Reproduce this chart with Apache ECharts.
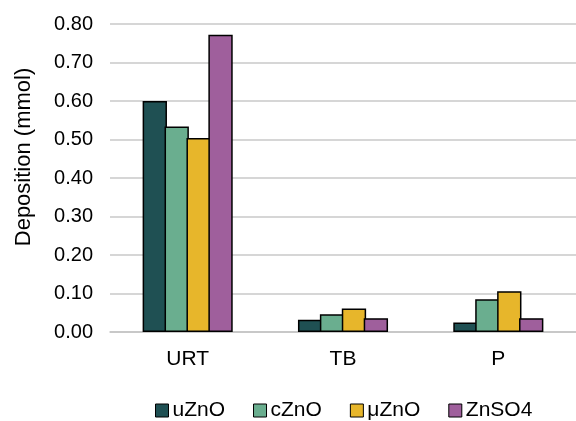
<!DOCTYPE html>
<html><head><meta charset="utf-8">
<script src="https://cdn.jsdelivr.net/npm/echarts@6/dist/echarts.min.js"></script>
<style>html,body{margin:0;padding:0;background:#fff}#c{width:576px;height:421px}</style>
</head><body><div id="c"></div>
<script>
const categories = ['URT', 'TB', 'P'];
const seriesNames = ['uZnO', 'cZnO', 'μZnO', 'ZnSO4'];
const uZnO = [0.600, 0.032, 0.025];
const cZnO = [0.534, 0.046, 0.085];
const muZnO = [0.504, 0.061, 0.106];
const ZnSO4 = [0.772, 0.036, 0.036];
const yTicks = ['0.00', '0.10', '0.20', '0.30', '0.40', '0.50', '0.60', '0.70', '0.80'];
const yTitle = 'Deposition (mmol)';
const colors = ['#1f5053', '#6aae8f', '#e7b62b', '#9f5f9c'];
const values = [uZnO, cZnO, muZnO, ZnSO4];

const FONT = 'Liberation Sans, Arial, sans-serif';
const chart = echarts.init(document.getElementById('c'), null, {renderer: 'canvas'});
chart.setOption({
  animation: false,
  textStyle: {fontFamily: FONT},
  grid: {left: 110, right: -12, top: 24, bottom: 89},
  legend: {
    bottom: 0, left: 155, padding: 0,
    itemWidth: 13, itemHeight: 13, itemGap: 28,
    icon: 'rect',
    itemStyle: {borderColor: '#000', borderWidth: 1},
    textStyle: {fontSize: 21, color: '#000', fontFamily: FONT, padding: [0, 0, 0, -1]},
    data: seriesNames
  },
  graphic: [{
    type: 'text', x: 24, y: 157, rotation: Math.PI / 2,
    style: {text: yTitle, fontSize: 22, fontFamily: FONT, fill: '#000', align: 'center', verticalAlign: 'middle'}
  }],
  xAxis: {
    type: 'category', data: categories,
    axisLine: {lineStyle: {color: '#c4c4c4', width: 1.5}},
    axisTick: {show: false},
    axisLabel: {fontSize: 21, color: '#000', margin: 17}
  },
  yAxis: {
    type: 'value', min: 0, max: 0.8, interval: 0.1,
    axisLabel: {fontSize: 20, color: '#000', margin: 17, formatter: (v) => yTicks[Math.round(v * 10)]},
    splitLine: {lineStyle: {color: '#c8c8c8', width: 1.5}},
    axisLine: {show: false}, axisTick: {show: false}
  },
  series: seriesNames.map((n, i) => ({
    name: n, type: 'bar', data: values[i],
    barGap: '-10%', barCategoryGap: '42%',
    itemStyle: {color: colors[i], borderColor: '#000', borderWidth: 1.5}
  }))
});
</script></body></html>
